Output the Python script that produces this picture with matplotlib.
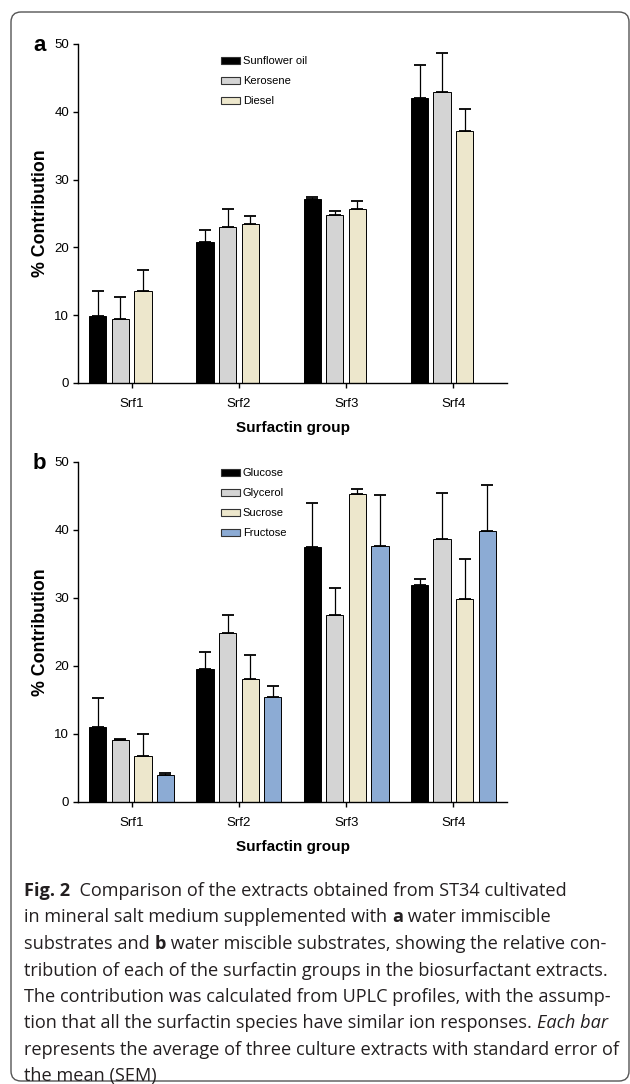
import numpy as np
import matplotlib
matplotlib.use("Agg")
import matplotlib.pyplot as plt
from matplotlib.patches import FancyBboxPatch, Patch
from matplotlib.transforms import IdentityTransform

plt.rcParams['font.family'] = ['Liberation Sans', 'DejaVu Sans']

groups = ["Srf1", "Srf2", "Srf3", "Srf4"]

# panel a - water immiscible substrates
labels_a = ["Sunflower oil", "Kerosene", "Diesel"]
sunflower = [9.9, 20.8, 27.1, 42.0]
sunflower_err = [3.6, 1.7, 0.4, 4.9]
kerosene = [9.4, 23.0, 24.8, 42.9]
kerosene_err = [3.3, 2.7, 0.6, 5.7]
diesel = [13.6, 23.5, 25.7, 37.2]
diesel_err = [3.1, 1.2, 1.2, 3.2]

# panel b - water miscible substrates
labels_b = ["Glucose", "Glycerol", "Sucrose", "Fructose"]
glucose = [11.0, 19.6, 37.5, 31.9]
glucose_err = [4.3, 2.4, 6.5, 0.9]
glycerol = [9.1, 24.8, 27.5, 38.7]
glycerol_err = [0.2, 2.7, 3.9, 6.8]
sucrose = [6.8, 18.1, 45.3, 29.8]
sucrose_err = [3.2, 3.5, 0.8, 6.0]
fructose = [4.0, 15.5, 37.7, 39.8]
fructose_err = [0.3, 1.5, 7.5, 6.8]

colors = ["#000000", "#d4d4d4", "#ede7cc", "#8cabd4"]

W, H = 630, 1084
fig = plt.figure(figsize=(W/100, H/100), dpi=100)


def fx(px):
    return px / W


def fy(py):
    return 1 - py / H


def panel(top, bottom, series, errs, labels, letter, leg_top):
    ax = fig.add_axes([fx(78), fy(bottom), fx(507) - fx(78), fy(top) - fy(bottom)])
    x = np.arange(len(groups))
    step, width = 0.21, 0.161
    for i, (vals, err) in enumerate(zip(series, errs)):
        pos = x + (i - 1.5) * step
        ax.bar(pos, vals, width, color=colors[i], edgecolor="black", linewidth=0.7, zorder=2)
        ax.errorbar(pos, vals, yerr=[np.zeros(len(err)), err], fmt="none", ecolor="black",
                    elinewidth=0.9, capsize=4.5, capthick=1.3, zorder=1)
    ax.set_xlim(-0.5, 3.5)
    ax.set_ylim(0, 50)
    ax.set_yticks(range(0, 51, 10))
    ax.set_xticks(x)
    ax.set_xticklabels(groups)
    for s in ["top", "right"]:
        ax.spines[s].set_visible(False)
    for s in ["left", "bottom"]:
        ax.spines[s].set_linewidth(1.0)
    ax.tick_params(axis="y", length=3.5, width=1, pad=3, labelsize=9.5)
    ax.tick_params(axis="x", length=3.5, width=1, pad=7, labelsize=9.5)
    ax.set_xlabel("Surfactin group", fontsize=11, fontweight="bold", labelpad=8)
    ax.set_ylabel("% Contribution", fontsize=12.8, fontweight="bold", labelpad=4)
    fig.text(fx(33), fy(top + 7), letter, fontsize=16, fontweight="bold", ha="left", va="baseline")
    handles = [Patch(facecolor=colors[i], edgecolor="#333333", linewidth=0.8) for i in range(len(labels))]
    ax.legend(handles, labels, loc="upper left", bbox_to_anchor=(fx(221), fy(leg_top)),
              bbox_transform=fig.transFigure, frameon=False, fontsize=8,
              handlelength=1.7, handleheight=0.6, handletextpad=0.25,
              labelspacing=0.9, borderpad=0, borderaxespad=0)
    return ax


panel(44, 383, [sunflower, kerosene, diesel], [sunflower_err, kerosene_err, diesel_err],
      labels_a, "a", 56)
panel(462, 802, [glucose, glycerol, sucrose, fructose],
      [glucose_err, glycerol_err, sucrose_err, fructose_err], labels_b, "b", 468.5)

# rounded frame
frame = FancyBboxPatch((11, 3), 618, 1069, boxstyle="round,pad=0,rounding_size=10",
                       transform=IdentityTransform(), facecolor="none",
                       edgecolor="#555555", linewidth=1.0)
fig.add_artist(frame)

# caption
caption = [
    [("Fig. 2", "bold", "normal"), ("  Comparison of the extracts obtained from ST34 cultivated", "normal", "normal")],
    [("in mineral salt medium supplemented with ", "normal", "normal"), ("a", "bold", "normal"),
     (" water immiscible", "normal", "normal")],
    [("substrates and ", "normal", "normal"), ("b", "bold", "normal"),
     (" water miscible substrates, showing the relative con-", "normal", "normal")],
    [("tribution of each of the surfactin groups in the biosurfactant extracts.", "normal", "normal")],
    [("The contribution was calculated from UPLC profiles, with the assump-", "normal", "normal")],
    [("tion that all the surfactin species have similar ion responses. ", "normal", "normal"),
     ("Each bar", "normal", "italic")],
    [("represents the average of three culture extracts with standard error of", "normal", "normal")],
    [("the mean (SEM)", "normal", "normal")],
]

renderer = fig.canvas.get_renderer()
cap_font = ["Open Sans", "DejaVu Sans"]
y0 = 896
for k, line in enumerate(caption):
    xpos = 24
    for txt, weight, style in line:
        t = fig.text(fx(xpos), fy(y0 + k * 26.5), txt, fontsize=13.1, family=cap_font,
                     fontweight=weight, fontstyle=style, color="#231f20",
                     ha="left", va="baseline")
        xpos += t.get_window_extent(renderer).width

fig.savefig("out.png", dpi=100)
